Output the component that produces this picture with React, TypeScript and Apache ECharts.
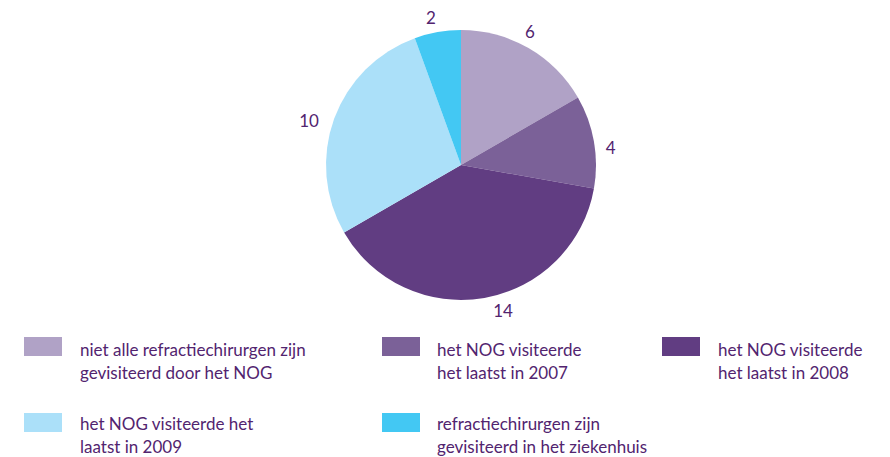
import React, { useEffect, useRef } from "react";
import * as echarts from "echarts";

const categories = [
  "niet alle refractiechirurgen zijn\ngevisiteerd door het NOG",
  "het NOG visiteerde\nhet laatst in 2007",
  "het NOG visiteerde\nhet laatst in 2008",
  "het NOG visiteerde het\nlaatst in 2009",
  "refractiechirurgen zijn\ngevisiteerd in het ziekenhuis",
];
const values = [6, 4, 14, 10, 2];
const colors = ["#b0a2c6", "#7b6198", "#613d82", "#abe0f9", "#43c8f3"];

const TEXT_COLOR = "#52246f";
const FONT = "Lato, 'Open Sans', sans-serif";

// small label nudges (style only) to mimic reference label placement
const labelNudge = [
  [-6, -4],
  [2, 9],
  [16, -2],
  [-11, 7],
  [-4, 0],
];

// legend layout slots (col, row) for each category
const legendSlots = [
  [0, 0],
  [1, 0],
  [2, 0],
  [0, 1],
  [1, 1],
];
const colSquareX = [24, 382, 662];
const colTextX = [80, 437, 718];
const rowSquareY = [337, 413];
const rowTextY = [338, 412];

export default function App() {
  const ref = useRef<HTMLDivElement>(null);

  useEffect(() => {
    document.body.style.margin = "0";
    const chart = echarts.init(ref.current!, null, { renderer: "svg" });

    const legendGraphics: any[] = [];
    categories.forEach((name, i) => {
      const [c, r] = legendSlots[i];
      legendGraphics.push({
        type: "rect",
        shape: { x: colSquareX[c], y: rowSquareY[r], width: 38, height: 19 },
        style: { fill: colors[i] },
      });
      legendGraphics.push({
        type: "text",
        x: colTextX[c],
        y: rowTextY[r],
        style: {
          text: name,
          fill: TEXT_COLOR,
          font: `17px ${FONT}`,
          lineHeight: 23,
          verticalAlign: "top",
          align: "left",
        },
      });
    });

    chart.setOption({
      animation: false,
      backgroundColor: "#ffffff",
      series: [
        {
          type: "pie",
          center: [461, 165],
          radius: 135,
          startAngle: 90,
          clockwise: true,
          avoidLabelOverlap: false,
          silent: true,
          data: categories.map((name, i) => ({
            name,
            value: values[i],
            itemStyle: { color: colors[i] },
          })),
          itemStyle: { borderWidth: 0 },
          label: {
            show: true,
            position: "outside",
            formatter: "{c}",
            color: TEXT_COLOR,
            fontSize: 17,
            fontFamily: FONT,
            distanceToLabelLine: 0,
          },
          labelLine: { show: false, length: 15, length2: 0 },
          labelLayout: (p: any) => ({
            align: "center",
            verticalAlign: "middle",
            dx: labelNudge[p.dataIndex][0],
            dy: labelNudge[p.dataIndex][1],
          }),
        },
      ],
      graphic: legendGraphics,
    });

    return () => chart.dispose();
  }, []);

  return <div ref={ref} style={{ width: 890, height: 457 }} />;
}
